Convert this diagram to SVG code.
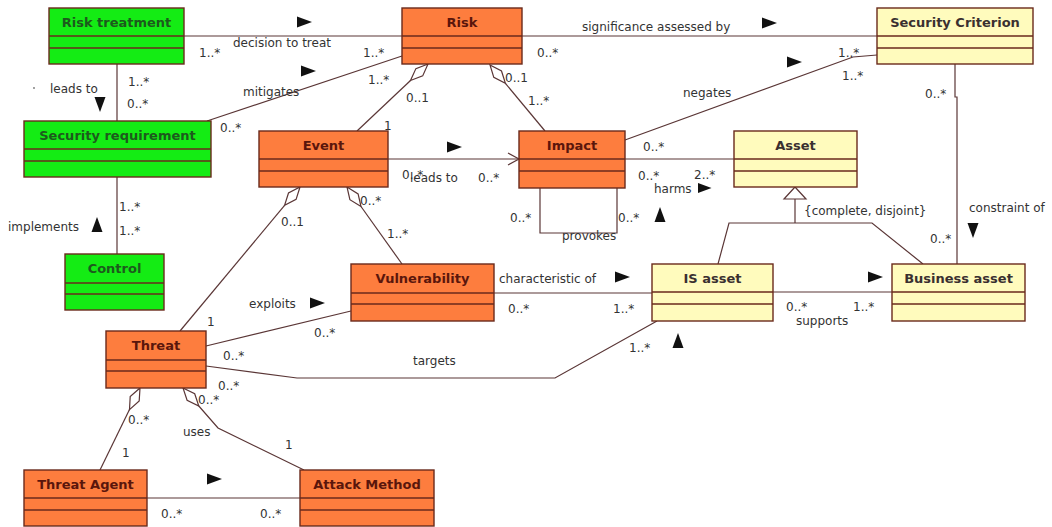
<svg xmlns="http://www.w3.org/2000/svg" width="1052" height="527" viewBox="0 0 1052 527">
  <style>
    .box { stroke: #6a2a1c; stroke-width: 1.4; }
    .green { fill: #14ec14; }
    .orange { fill: #fd7d3e; }
    .yellow { fill: #fffbbd; }
    .sep { stroke: #6a2a1c; stroke-width: 1.3; fill: none; }
    .title { font-family: "DejaVu Sans", Verdana, sans-serif; font-size: 13px; font-weight: bold; text-anchor: middle; }
    .tg { fill: #1d5a1d; }
    .to { fill: #5a160c; }
    .ty { fill: #3a3030; }
    .conn { stroke: #5a3636; stroke-width: 1.2; fill: none; }
    .agg { stroke: #5a3636; stroke-width: 1.2; fill: #ffffff; }
    .lbl { font-family: "DejaVu Sans", Verdana, sans-serif; font-size: 12px; fill: #333333; }
    .dir { fill: #111111; }
  </style>
  <defs>
    <path id="tri" d="M0,-5.5 L15,0 L0,5.5 Z"/>
  </defs>
  <rect width="1052" height="527" fill="#ffffff"/>

  <!-- associations -->
  <g id="connectors">
    <!-- Risk treatment - Risk -->
    <line class="conn" x1="184" y1="36" x2="402" y2="36"/>
    <!-- Security requirement - Risk -->
    <line class="conn" x1="207" y1="121" x2="402" y2="56"/>
    <!-- Risk treatment - Security requirement -->
    <line class="conn" x1="117" y1="64" x2="117" y2="121"/>
    <!-- Security requirement - Control -->
    <line class="conn" x1="117" y1="177" x2="117" y2="254"/>
    <!-- Risk - Security Criterion -->
    <line class="conn" x1="522" y1="36" x2="877" y2="36"/>
    <!-- Impact - Security Criterion -->
    <polyline class="conn" points="625,140 853,57 877,55"/>
    <!-- Security Criterion - Business asset -->
    <polyline class="conn" points="955,64 955,97 957,97 957,264"/>
    <!-- Risk <>- Event -->
    <path class="agg" d="M428,64 L422.7,75.9 L410.5,80.5 L415.9,68.6 Z"/>
    <line class="conn" x1="410.5" y1="80.5" x2="357" y2="131"/>
    <!-- Risk <>- Impact -->
    <path class="agg" d="M490,65 L501.5,71 L505.4,83.4 L493.8,77.4 Z"/>
    <line class="conn" x1="505.4" y1="83.4" x2="545" y2="131"/>
    <!-- Event - Impact -->
    <line class="conn" x1="388" y1="159" x2="519" y2="159"/>
    <polyline class="conn" points="508,153 519,159 508,165"/>
    <!-- Impact - Asset -->
    <line class="conn" x1="625" y1="159" x2="734" y2="159"/>
    <!-- Impact self association -->
    <polyline class="conn" points="540,188 540,233 617,233 617,188"/>
    <!-- Event <>- Threat -->
    <path class="agg" d="M300,187 L296.1,199.4 L284.6,205.4 L288.5,193 Z"/>
    <line class="conn" x1="284.6" y1="205.4" x2="180" y2="331"/>
    <!-- Event <>- Vulnerability -->
    <path class="agg" d="M347,187 L358.1,193.9 L361,206.5 L349.9,199.7 Z"/>
    <line class="conn" x1="361" y1="206.5" x2="402" y2="264"/>
    <!-- Vulnerability - IS asset -->
    <line class="conn" x1="494" y1="293" x2="652" y2="293"/>
    <!-- Threat - Vulnerability -->
    <line class="conn" x1="206" y1="346" x2="351" y2="311"/>
    <!-- Threat - IS asset -->
    <polyline class="conn" points="206,366 297,378 555,378 657,321"/>
    <!-- Threat <>- Threat Agent -->
    <path class="agg" d="M140,388 L139.2,401 L129.5,409.6 L130.2,396.6 Z"/>
    <line class="conn" x1="129.5" y1="409.6" x2="100" y2="470"/>
    <!-- Threat <>- Attack Method -->
    <path class="agg" d="M183,388 L194.7,393.7 L198.8,406 L187.1,400.3 Z"/>
    <polyline class="conn" points="198.8,406 218,428 304,470"/>
    <!-- Threat Agent - Attack Method -->
    <line class="conn" x1="147" y1="498" x2="300" y2="498"/>
    <!-- IS asset - Business asset -->
    <line class="conn" x1="773" y1="292" x2="892" y2="292"/>
    <!-- generalization to Asset -->
    <path class="agg" d="M795,187 L806,199 L784,199 Z"/>
    <polyline class="conn" points="795,199 795,223"/>
    <polyline class="conn" points="718,264 729,223 872,223 923,264"/>

    <!-- reading direction markers -->
    <use href="#tri" class="dir" transform="translate(297,22)"/>
    <use href="#tri" class="dir" transform="translate(301,71)"/>
    <use href="#tri" class="dir" transform="translate(762,23)"/>
    <use href="#tri" class="dir" transform="translate(787,62)"/>
    <use href="#tri" class="dir" transform="translate(447,147)"/>
    <use href="#tri" class="dir" transform="translate(698,188) scale(0.9)"/>
    <use href="#tri" class="dir" transform="translate(615,277)"/>
    <use href="#tri" class="dir" transform="translate(310,303)"/>
    <use href="#tri" class="dir" transform="translate(868,277)"/>
    <use href="#tri" class="dir" transform="translate(207,479)"/>
    <use href="#tri" class="dir" transform="translate(100,97) rotate(90)"/>
    <use href="#tri" class="dir" transform="translate(973,223) rotate(90)"/>
    <use href="#tri" class="dir" transform="translate(97,232) rotate(-90)"/>
    <use href="#tri" class="dir" transform="translate(660,222) rotate(-90)"/>
    <use href="#tri" class="dir" transform="translate(678,348) rotate(-90)"/>

    <!-- association names -->
    <text class="lbl" x="233" y="47">decision to treat</text>
    <text class="lbl" x="243" y="96">mitigates</text>
    <text class="lbl" x="50" y="93">leads to</text>
    <circle cx="34" cy="88" r="0.9" fill="#777777"/>
    <text class="lbl" x="8" y="231">implements</text>
    <text class="lbl" x="582" y="31">significance assessed by</text>
    <text class="lbl" x="683" y="97">negates</text>
    <text class="lbl" x="969" y="212">constraint of</text>
    <text class="lbl" x="410" y="182">leads to</text>
    <text class="lbl" x="654" y="193">harms</text>
    <text class="lbl" x="562" y="240">provokes</text>
    <text class="lbl" x="499" y="283">characteristic of</text>
    <text class="lbl" x="249" y="308">exploits</text>
    <text class="lbl" x="413" y="365">targets</text>
    <text class="lbl" x="183" y="436">uses</text>
    <text class="lbl" x="796" y="325">supports</text>
    <text class="lbl" x="804" y="215">{complete, disjoint}</text>

    <!-- multiplicities -->
    <text class="lbl" x="199" y="57">1..*</text>
    <text class="lbl" x="363" y="57">1..*</text>
    <text class="lbl" x="220" y="132">0..*</text>
    <text class="lbl" x="368" y="84">1..*</text>
    <text class="lbl" x="128" y="86">1..*</text>
    <text class="lbl" x="127" y="108">0..*</text>
    <text class="lbl" x="119" y="211">1..*</text>
    <text class="lbl" x="119" y="235">1..*</text>
    <text class="lbl" x="406" y="102">0..1</text>
    <text class="lbl" x="384" y="130">1</text>
    <text class="lbl" x="505" y="82">0..1</text>
    <text class="lbl" x="528" y="105">1..*</text>
    <text class="lbl" x="537" y="57">0..*</text>
    <text class="lbl" x="838" y="57">1..*</text>
    <text class="lbl" x="842" y="80">1..*</text>
    <text class="lbl" x="925" y="98">0..*</text>
    <text class="lbl" x="930" y="243">0..*</text>
    <text class="lbl" x="402" y="179">0..*</text>
    <text class="lbl" x="478" y="182">0..*</text>
    <text class="lbl" x="643" y="151">0..*</text>
    <text class="lbl" x="638" y="180">0..*</text>
    <text class="lbl" x="694" y="179">2..*</text>
    <text class="lbl" x="510" y="222">0..*</text>
    <text class="lbl" x="618" y="222">0..*</text>
    <text class="lbl" x="281" y="226">0..1</text>
    <text class="lbl" x="207" y="326">1</text>
    <text class="lbl" x="360" y="205">0..*</text>
    <text class="lbl" x="387" y="238">1..*</text>
    <text class="lbl" x="508" y="313">0..*</text>
    <text class="lbl" x="613" y="313">1..*</text>
    <text class="lbl" x="314" y="337">0..*</text>
    <text class="lbl" x="223" y="360">0..*</text>
    <text class="lbl" x="629" y="352">1..*</text>
    <text class="lbl" x="218" y="390">0..*</text>
    <text class="lbl" x="198" y="404">0..*</text>
    <text class="lbl" x="128" y="424">0..*</text>
    <text class="lbl" x="122" y="457">1</text>
    <text class="lbl" x="285" y="449">1</text>
    <text class="lbl" x="161" y="518">0..*</text>
    <text class="lbl" x="260" y="518">0..*</text>
    <text class="lbl" x="786" y="311">0..*</text>
    <text class="lbl" x="853" y="311">1..*</text>
  </g>

  <!-- classes -->
  <g id="risk-treatment">
    <rect class="box green" x="49" y="8" width="135" height="56"/>
    <path class="sep" d="M49,36 H184 M49,48 H184"/>
    <text class="title tg" x="116.5" y="27">Risk treatment</text>
  </g>
  <g id="security-requirement">
    <rect class="box green" x="24" y="121" width="187" height="56"/>
    <path class="sep" d="M24,149 H211 M24,161 H211"/>
    <text class="title tg" x="117.5" y="140">Security requirement</text>
  </g>
  <g id="control">
    <rect class="box green" x="65" y="254" width="99" height="56"/>
    <path class="sep" d="M65,283 H164 M65,294 H164"/>
    <text class="title tg" x="114.5" y="273">Control</text>
  </g>
  <g id="risk">
    <rect class="box orange" x="402" y="8" width="120" height="56"/>
    <path class="sep" d="M402,36 H522 M402,48 H522"/>
    <text class="title to" x="462" y="27">Risk</text>
  </g>
  <g id="security-criterion">
    <rect class="box yellow" x="877" y="8" width="156" height="56"/>
    <path class="sep" d="M877,36 H1033 M877,48 H1033"/>
    <text class="title ty" x="955" y="27">Security Criterion</text>
  </g>
  <g id="event">
    <rect class="box orange" x="259" y="131" width="129" height="56"/>
    <path class="sep" d="M259,159 H388 M259,171 H388"/>
    <text class="title to" x="323.5" y="150">Event</text>
  </g>
  <g id="impact">
    <rect class="box orange" x="519" y="131" width="106" height="57"/>
    <path class="sep" d="M519,159 H625 M519,171 H625"/>
    <text class="title to" x="572" y="150">Impact</text>
  </g>
  <g id="asset">
    <rect class="box yellow" x="734" y="131" width="123" height="56"/>
    <path class="sep" d="M734,159 H857 M734,171 H857"/>
    <text class="title ty" x="795.5" y="150">Asset</text>
  </g>
  <g id="vulnerability">
    <rect class="box orange" x="351" y="264" width="143" height="57"/>
    <path class="sep" d="M351,293 H494 M351,304 H494"/>
    <text class="title to" x="422.5" y="283">Vulnerability</text>
  </g>
  <g id="is-asset">
    <rect class="box yellow" x="652" y="264" width="121" height="57"/>
    <path class="sep" d="M652,292 H773 M652,304 H773"/>
    <text class="title ty" x="712.5" y="283">IS asset</text>
  </g>
  <g id="business-asset">
    <rect class="box yellow" x="892" y="264" width="133" height="57"/>
    <path class="sep" d="M892,292 H1025 M892,304 H1025"/>
    <text class="title ty" x="958.5" y="283">Business asset</text>
  </g>
  <g id="threat">
    <rect class="box orange" x="106" y="331" width="100" height="57"/>
    <path class="sep" d="M106,360 H206 M106,371 H206"/>
    <text class="title to" x="156" y="350">Threat</text>
  </g>
  <g id="threat-agent">
    <rect class="box orange" x="24" y="470" width="123" height="56"/>
    <path class="sep" d="M24,498 H147 M24,510 H147"/>
    <text class="title to" x="85.5" y="489">Threat Agent</text>
  </g>
  <g id="attack-method">
    <rect class="box orange" x="300" y="470" width="134" height="56"/>
    <path class="sep" d="M300,498 H434 M300,510 H434"/>
    <text class="title to" x="367" y="489">Attack Method</text>
  </g>
</svg>
